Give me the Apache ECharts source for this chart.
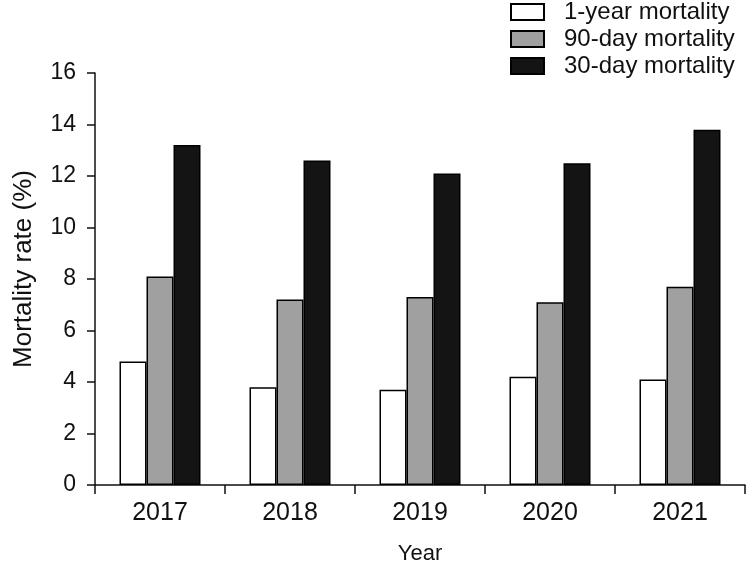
<!DOCTYPE html>
<html>
<head>
<meta charset="utf-8">
<script src="https://cdn.jsdelivr.net/npm/echarts@6/dist/echarts.min.js"></script>
<style>html,body{margin:0;padding:0;background:#fff}#c{width:747px;height:563px}</style>
</head>
<body>
<div id="c"></div>
<script>
var years = ['2017', '2018', '2019', '2020', '2021'];
var oneYear = [4.8, 3.8, 3.7, 4.2, 4.1];
var ninetyDay = [8.1, 7.2, 7.3, 7.1, 7.7];
var thirtyDay = [13.2, 12.6, 12.1, 12.5, 13.8];
var yTicks = { min: 0, max: 16, interval: 2 };

var font = 'Liberation Sans, Arial, sans-serif';
var chart = echarts.init(document.getElementById('c'));
function bar(name, data, color) {
  return {
    name: name, type: 'bar', data: data, barWidth: 27, barGap: '0%',
    itemStyle: { color: color, borderColor: '#000', borderWidth: 1.5 },
    emphasis: { disabled: true }
  };
}
chart.setOption({
  animation: false,
  textStyle: { fontFamily: font },
  grid: { left: 95, right: 2, top: 73, height: 412, containLabel: false, outerBoundsMode: 'none' },
  legend: {
    orient: 'vertical', left: 510, top: 0, padding: 0,
    icon: 'rect',
    itemWidth: 33, itemHeight: 16, itemGap: 3,
    textStyle: { fontFamily: font, fontSize: 24, color: '#111', lineHeight: 24, padding: [0, 0, 0, 15] },
    data: ['1-year mortality', '90-day mortality', '30-day mortality']
  },
  xAxis: {
    type: 'category', data: years,
    name: 'Year', nameLocation: 'middle', nameGap: 58,
    nameTextStyle: { fontFamily: font, fontSize: 22, color: '#111' },
    axisLine: { lineStyle: { color: '#111', width: 1.5 } },
    axisTick: { show: true, length: 9, alignWithLabel: false, lineStyle: { color: '#111', width: 1.5 } },
    axisLabel: { fontFamily: font, fontSize: 25, color: '#111', margin: 16 }
  },
  yAxis: {
    type: 'value', min: yTicks.min, max: yTicks.max, interval: yTicks.interval,
    name: 'Mortality rate (%)', nameLocation: 'middle', nameGap: 58, nameRotate: 90,
    nameTextStyle: { fontFamily: font, fontSize: 26, color: '#111', padding: [0, 0, 0, 20] },
    axisLine: { show: true, lineStyle: { color: '#111', width: 1.5 } },
    axisTick: { show: true, length: 8, lineStyle: { color: '#111', width: 1.5 } },
    axisLabel: { fontFamily: font, fontSize: 23, color: '#111', margin: 19 },
    splitLine: { show: false }
  },
  series: [
    bar('1-year mortality', oneYear, '#ffffff'),
    bar('90-day mortality', ninetyDay, '#a0a0a0'),
    bar('30-day mortality', thirtyDay, '#141414')
  ]
});
</script>
</body>
</html>
